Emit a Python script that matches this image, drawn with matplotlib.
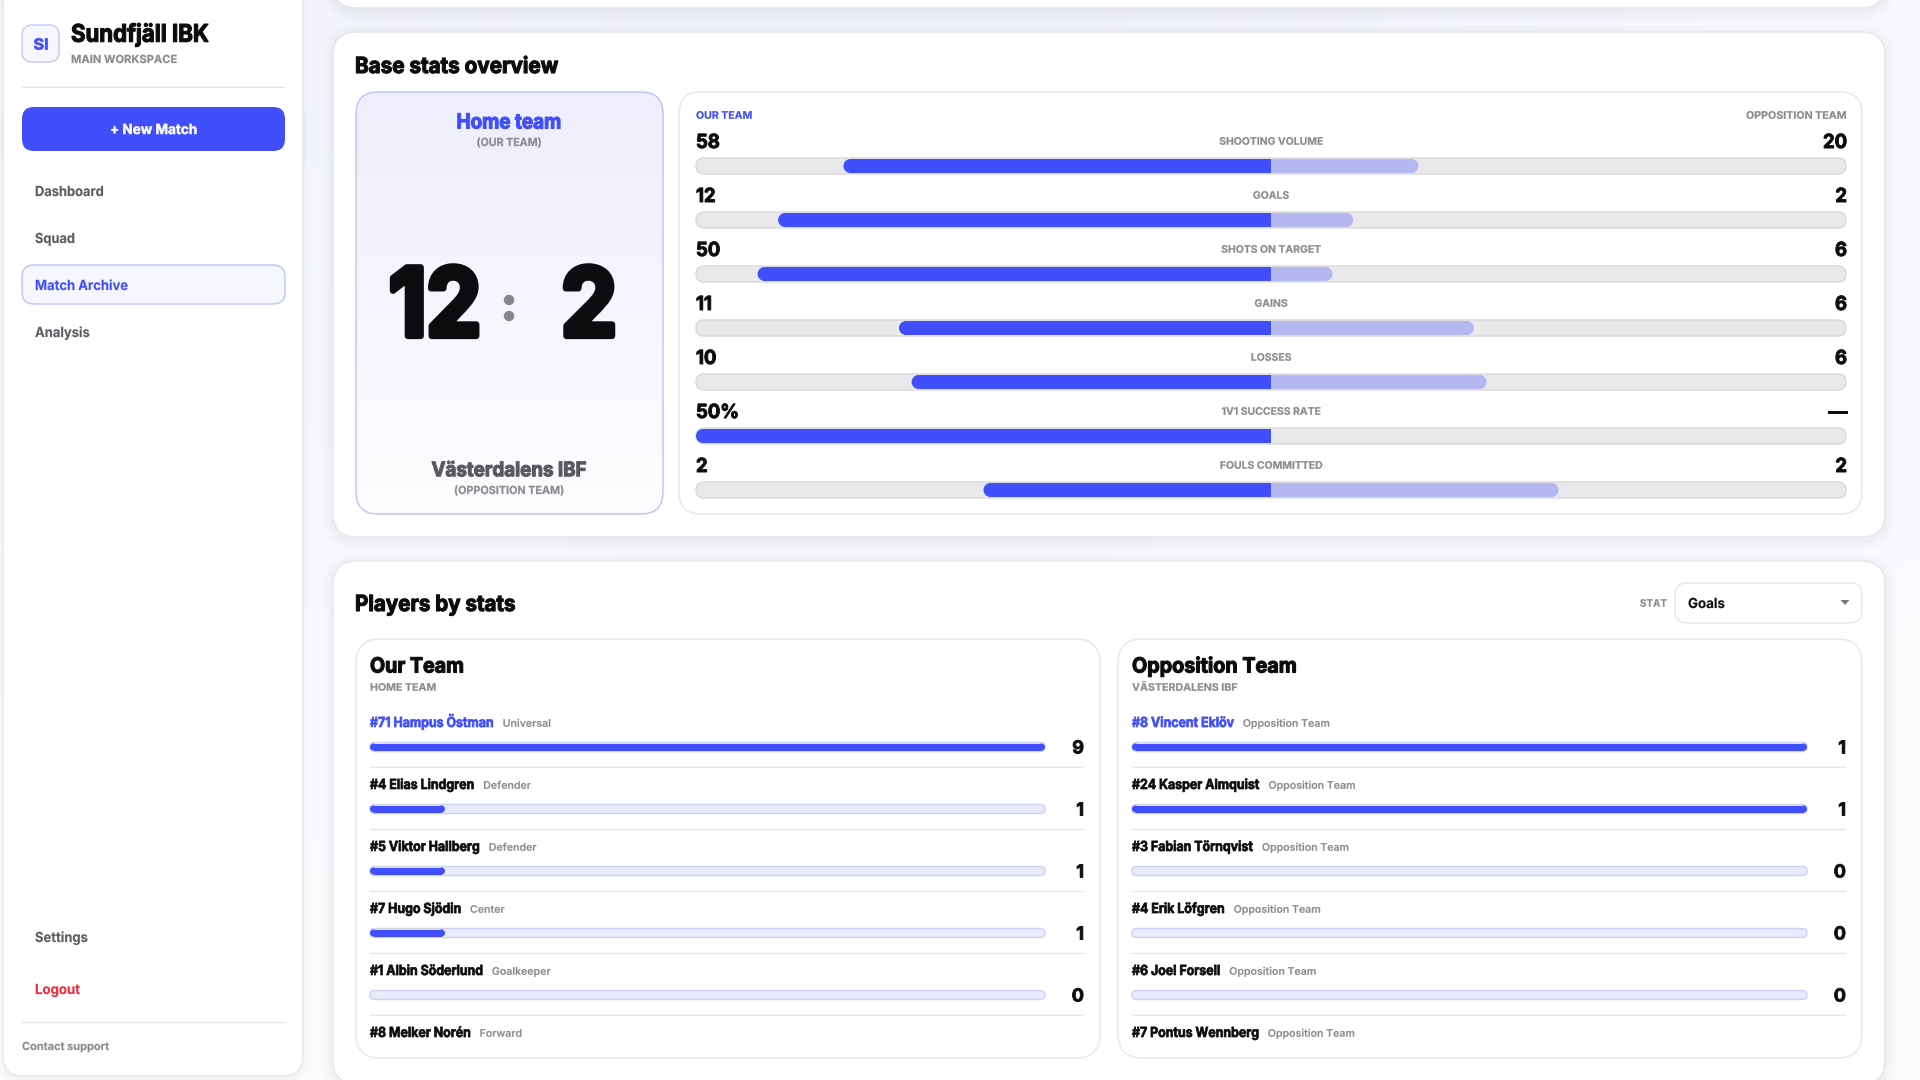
import numpy as np
import matplotlib
matplotlib.use("Agg")
import matplotlib.pyplot as plt
from matplotlib.patches import FancyBboxPatch, Ellipse, Circle, Polygon
from matplotlib.patheffects import AbstractPathEffect
from matplotlib.transforms import Affine2D, Bbox

plt.rcParams['font.family'] = ['Inter', 'DejaVu Sans']

# base stats
stat_labels = ["SHOOTING VOLUME", "GOALS", "SHOTS ON TARGET", "GAINS", "LOSSES", "1V1 SUCCESS RATE", "FOULS COMMITTED"]
our_values = [58, 12, 50, 11, 10, 50, 2]
opp_values = [20, 2, 6, 6, 6, 0, 2]
our_texts = ["58", "12", "50", "11", "10", "50%", "2"]
opp_texts = ["20", "2", "6", "6", "6", "—", "2"]

# players by stats
our_players = ["#71 Hampus Östman", "#4 Elias Lindgren", "#5 Viktor Hallberg", "#7 Hugo Sjödin", "#1 Albin Söderlund", "#8 Melker Norén"]
our_roles = ["Universal", "Defender", "Defender", "Center", "Goalkeeper", "Forward"]
our_goals = [9, 1, 1, 1, 0]
opp_players = ["#8 Vincent Eklöv", "#24 Kasper Almquist", "#3 Fabian Törnqvist", "#4 Erik Löfgren", "#6 Joel Forsell", "#7 Pontus Wennberg"]
opp_roles = ["Opposition Team"] * 6
opp_goals = [1, 1, 0, 0, 0]

INK = "#0c0c0f"
BLUE = "#404ffb"
LIGHT = "#b5b8f0"
GREY = "#8b8b90"
NAV = "#5c5c62"
LINE = "#e6e6ea"

fig = plt.figure(figsize=(19.2, 10.8), dpi=100, facecolor="white")
ax = fig.add_axes([0, 0, 1, 1])
ax.axis("off")
ax.set_xlim(0, 1920)
ax.set_ylim(1080, 0)
rend = fig.canvas.get_renderer()


class Squeeze(AbstractPathEffect):
    # the headings have negative letter spacing, so narrow them and thicken the glyphs a bit
    def __init__(self, sx, x0, fat):
        super().__init__()
        self.sx, self.x0, self.fat = sx, x0, fat

    def draw_path(self, renderer, gc, tpath, affine, rgbFace):
        aff = affine + Affine2D().translate(-self.x0, 0).scale(self.sx, 1).translate(self.x0, 0)
        gc0 = renderer.new_gc()
        gc0.copy_properties(gc)
        gc0.set_foreground(rgbFace)
        gc0.set_linewidth(self.fat)
        renderer.draw_path(gc0, tpath, aff, rgbFace)
        gc0.restore()


def box(x0, y0, x1, y1, r, fc="white", ec=LINE, lw=1.0, z=2):
    p = FancyBboxPatch((x0, y0), x1 - x0, y1 - y0, boxstyle=f"round,pad=0,rounding_size={r}",
                       fc=fc, ec=ec, lw=lw, zorder=z)
    ax.add_patch(p)
    return p


def shadow(x0, y0, x1, y1, r, color="#30305a", dy=4, spread=14, alpha=0.003, z=1):
    for k in range(spread, 0, -1):
        box(x0 - k, y0 - k + dy, x1 + k, y1 + k + dy, r + k, fc=matplotlib.colors.to_rgba(color, alpha), ec="none", lw=0, z=z)


def label(x, y, s, size, weight="bold", color=INK, ha="left", fit=None, squeeze=None, fat=0.0, z=6):
    t = ax.text(x, y + 0.36 * size / 0.72, s, fontsize=size, fontweight=weight, color=color, ha=ha, va="baseline", zorder=z)
    b = t.get_window_extent(rend)
    sx = squeeze if squeeze else (fit / b.width if fit else 1.0)
    if sx != 1.0 or fat:
        t.set_path_effects([Squeeze(sx, x, fat)])
        # report the narrowed box, not the natural one
        shown = Bbox.from_extents(x + (b.x0 - x) * sx, b.y0, x + (b.x1 - x) * sx, b.y1)
        t.get_window_extent = lambda renderer=None, dpi=None: shown
    t.shown_width = b.width * sx
    return t


# page background
yy, xx = np.mgrid[0:1:108j, 0:1:192j]
glow = np.exp(-(((xx - 0.45) / 0.45) ** 2 + (yy / 0.55) ** 2))
bg = np.zeros((108, 192, 3))
for c, (a, b) in enumerate(zip((0xfb, 0xfb, 0xfe), (0xee, 0xf0, 0xfb))):
    bg[..., c] = (a + (b - a) * glow) / 255
ax.imshow(bg, extent=(0, 1920, 1080, 0), aspect="auto", zorder=0)
ax.set_xlim(0, 1920)
ax.set_ylim(1080, 0)

# sidebar
shadow(3, -14, 303, 1076, 20, spread=6, dy=2)
box(3, -14, 303, 1076, 20)
shadow(22, 25, 59, 62, 10, color=BLUE, spread=10, dy=4, alpha=0.008)
box(22, 25, 59, 62, 10, fc="#f5f6ff", ec="#c3c8fb", lw=1.0)
label(41, 44, "SI", 11, "bold", BLUE, ha="center", fit=15, fat=0.5)
label(71, 33, "Sundfjäll IBK", 17.5, "bold", fit=138, fat=0.8)
label(71, 59, "MAIN WORKSPACE", 8, "bold", GREY, fit=106, fat=0.15)
ax.plot([22, 284], [86.5, 86.5], color=LINE, lw=1, zorder=3)
shadow(22, 107, 285, 151, 12, color=BLUE, spread=22, dy=9, alpha=0.014)
box(22, 107, 285, 151, 12, fc=BLUE, ec="none", lw=0)
label(153.5, 129, "+ New Match", 10, "bold", "white", ha="center", fit=87, fat=0.35)
label(35, 191, "Dashboard", 10, "bold", NAV, fit=69, fat=0.1)
label(35, 238, "Squad", 10, "bold", NAV, fit=40, fat=0.1)
box(22, 265, 285, 304, 12, fc="#f6f6ff", ec="#bcc3fb", lw=1.0)
label(35, 285, "Match Archive", 10, "bold", BLUE, fit=93, fat=0.1)
label(35, 332, "Analysis", 10, "bold", NAV, fit=55, fat=0.1)
label(35, 937, "Settings", 10, "bold", NAV, fit=53, fat=0.1)
label(35, 989, "Logout", 10, "bold", "#f4283c", fit=45, fat=0.1)
ax.plot([22, 284], [1021.5, 1021.5], color=LINE, lw=1, zorder=3)
label(22, 1046, "Contact support", 8, "bold", GREY, fit=88, fat=0.1)

# main cards
for top, bottom in ((-40, 8), (32, 537), (561, 1084)):
    shadow(333, top, 1885, bottom, 24, spread=10, dy=3)
    box(333, top, 1885, bottom, 24)

# base stats
label(355, 65, "Base stats overview", 16, "bold", fit=204, fat=0.8)
shadow(356, 92, 663, 514, 22, color=BLUE, spread=12, dy=6, alpha=0.003)
home = box(356, 92, 663, 514, 22, fc="none", ec="#bcc2fb", lw=1.0, z=4)
grad = np.linspace(0, 1, 256)[:, None, None] * (np.array([0xfd, 0xfd, 0xff]) - np.array([0xee, 0xee, 0xfc])) + np.array([0xee, 0xee, 0xfc])
im = ax.imshow(grad / 255, extent=(356, 663, 514, 92), aspect="auto", zorder=3)
im.set_clip_path(home)
ax.set_xlim(0, 1920)
ax.set_ylim(1080, 0)
label(509, 121, "Home team", 15, "bold", BLUE, ha="center", fit=105, fat=0.8)
label(509, 142, "(OUR TEAM)", 8, "bold", GREY, ha="center", fit=65, fat=0.15)
label(435, 302, "12", 68, "bold", ha="center", fit=92, fat=4.5)
label(589, 302, "2", 68, "bold", ha="center", fit=56, fat=4.5)
ax.add_patch(Circle((509, 300), 5.2, fc="#85858a", ec="none", zorder=6))
ax.add_patch(Circle((509, 316), 5.2, fc="#85858a", ec="none", zorder=6))
label(509, 469, "Västerdalens IBF", 14.4, "bold", "#58585e", ha="center", fit=155, fat=0.8)
label(509, 490, "(OPPOSITION TEAM)", 8, "bold", GREY, ha="center", fit=110, fat=0.15)

shadow(679, 92, 1862, 514, 22, spread=8, dy=4)
box(679, 92, 1862, 514, 22)
label(696, 115, "OUR TEAM", 7.5, "bold", BLUE, fit=56, fat=0.15)
label(1846, 115, "OPPOSITION TEAM", 7.5, "bold", GREY, ha="right", fit=100, fat=0.15)

TRACK_L, TRACK_R = 696, 1846
ROW0, PITCH = 166, 54
ax_stat = fig.add_axes([TRACK_L / 1920, 1 - (ROW0 + 6.5 * PITCH) / 1080, (TRACK_R - TRACK_L) / 1920, 7 * PITCH / 1080])
ax_stat.set_xlim(-1, 1)
ax_stat.set_ylim(6.5, -0.5)
ax_stat.axis("off")
bar_h = 14 / PITCH
cap = 2 * 7 / ((TRACK_R - TRACK_L) / 2)
for i, (a, b) in enumerate(zip(our_values, opp_values)):
    yc = ROW0 + i * PITCH
    box(TRACK_L, yc - 8, TRACK_R, yc + 8, 8, fc="#e9e9ec", ec="#d9d9de", lw=1.0)
    label(TRACK_L, yc - 25, our_texts[i], 14, "bold", squeeze=0.95, fat=0.7)
    label(TRACK_R + 1, yc - 25, opp_texts[i], 14, "bold", ha="right", squeeze=0.95, fat=0.7)
    label((TRACK_L + TRACK_R) / 2, yc - 25, stat_labels[i], 7.5, "bold", GREY, ha="center", fat=0.15)
    left, right = a / (a + b), b / (a + b)
    ax_stat.barh(i, -(left - cap / 2), height=bar_h, color=BLUE, zorder=3)
    ax_stat.add_patch(Ellipse((-left + cap / 2, i), cap, bar_h, fc=BLUE, ec="none", zorder=3))
    if right > 0:
        ax_stat.barh(i, right - cap / 2, height=bar_h, color=LIGHT, zorder=2)
        ax_stat.add_patch(Ellipse((right - cap / 2, i), cap, bar_h, fc=LIGHT, ec="none", zorder=2))

# players
label(355, 603, "Players by stats", 16, "bold", fit=161, fat=0.8)
label(1640, 603, "STAT", 7.5, "bold", GREY, fit=27, fat=0.15)
box(1675, 583, 1862, 623, 12)
label(1688, 603, "Goals", 10, "bold", fit=37, fat=0.1)
ax.add_patch(Polygon([[1840.5, 600], [1849.5, 600], [1845, 605]], fc="#77777c", ec="none", zorder=6))


def team_card(x0, x1, title, title_w, sub, sub_w, players, roles, goals, track_r, val_r):
    shadow(x0, 639, x1, 1058, 24, spread=8, dy=4)
    box(x0, 639, x1, 1058, 24)
    tx = x0 + 14
    label(tx, 665, title, 15, "bold", fit=title_w, fat=0.8)
    label(tx, 687, sub, 7.5, "bold", GREY, fit=sub_w, fat=0.15)
    row0, pitch = 747, 62
    a = fig.add_axes([tx / 1920, 1 - (row0 + 4.5 * pitch) / 1080, (track_r - tx) / 1920, 5 * pitch / 1080])
    a.set_xlim(0, max(goals))
    a.set_ylim(4.5, -0.5)
    a.axis("off")
    h = 7 / pitch
    cw = 7 / (track_r - tx) * max(goals)
    for i, name in enumerate(players):
        yn = row0 - 25 + i * pitch
        n = label(tx, yn, name, 10, "bold", BLUE if i == 0 else INK, squeeze=0.89, fat=0.5)
        label(tx + n.shown_width + 9, yn + 1, roles[i], 7.6, "semibold", GREY, fat=0.1)
        if i >= len(goals):
            continue
        yc = row0 + i * pitch
        box(tx, yc - 4.5, track_r, yc + 4.5, 4.5, fc="#e9eafb", ec="#cdd1f6", lw=1)
        v = goals[i]
        if v > 0:
            a.barh(i, v - cw, left=cw / 2, height=h, color=BLUE, zorder=3)
            a.add_patch(Ellipse((cw / 2, i), cw, h, fc=BLUE, ec="none", zorder=3))
            a.add_patch(Ellipse((v - cw / 2, i), cw, h, fc=BLUE, ec="none", zorder=3))
        label(val_r, yc, str(v), 13, "bold", ha="right", fat=0.6)
        ax.plot([tx, val_r - 1], [yc + 19.5, yc + 19.5], color=LINE, lw=1, zorder=3)


team_card(356, 1100, "Our Team", 94, "HOME TEAM", 66, our_players, our_roles, our_goals, 1045, 1084)
team_card(1118, 1862, "Opposition Team", 165, "VÄSTERDALENS IBF", 105, opp_players, opp_roles, opp_goals, 1807, 1846)

fig.savefig("out.png", dpi=100)
